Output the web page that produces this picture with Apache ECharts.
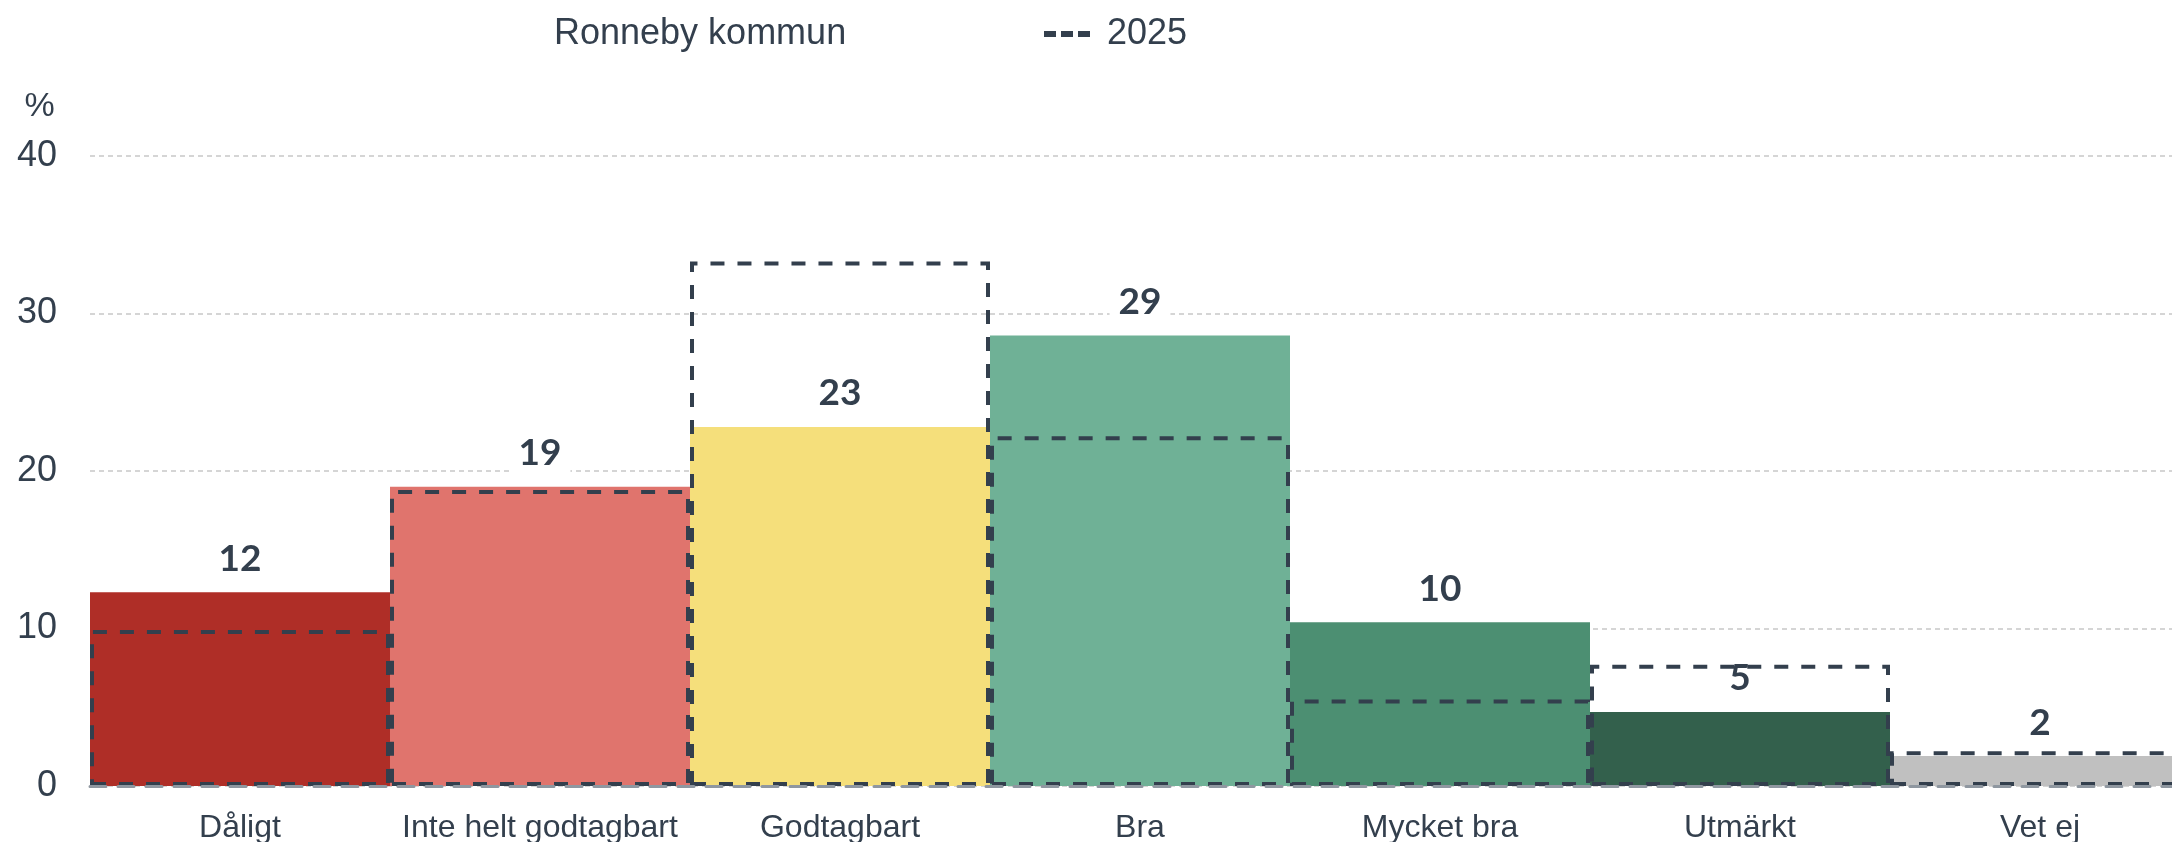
<!DOCTYPE html>
<html>
<head>
<meta charset="utf-8">
<script src="https://cdn.jsdelivr.net/npm/echarts@6/dist/echarts.min.js"></script>
<style>
    html, body { margin: 0; padding: 0; background: #fff; }
    #chart { width: 2172px; height: 842px; }
</style>
</head>
<body>
<div id="chart"></div>
<script>
// kategorier och värden (procent)
var categories = ['Dåligt', 'Inte helt godtagbart', 'Godtagbart', 'Bra', 'Mycket bra', 'Utmärkt', 'Vet ej'];
var values2026 = [12.3, 19.0, 22.8, 28.6, 10.4, 4.7, 1.9];
var values2025 = [9.9, 18.8, 33.3, 22.2, 5.5, 7.7, 2.2];
var yTicks = [0, 10, 20, 30, 40];

var barColors = ['#af2e27', '#e0746d', '#f5df7b', '#6fb196', '#4c8f72', '#33604c', '#c0c0c0'];
var textColor = '#333f4d';

var myChart = echarts.init(document.getElementById('chart'));

var option = {
    animation: false,
    textStyle: { fontFamily: '"Liberation Sans", Arial, sans-serif', color: textColor },
    legend: [
        {
            left: 544,
            top: 11,
            selectedMode: false,
            icon: 'none',
            itemWidth: 0,
            itemHeight: 6,
            textStyle: { fontSize: 36, color: textColor },
            data: [{ name: 'Ronneby kommun' }]
        },
        {
            left: 1039,
            top: 11,
            selectedMode: false,
            itemWidth: 46,
            itemHeight: 6,
            textStyle: { fontSize: 36, color: textColor, padding: [0, 0, 0, 12] },
            data: [{
                name: '2025',
                icon: 'path://M0,0H12V6H0Z M17,0H29V6H17Z M34,0H46V6H34Z',
                itemStyle: { color: textColor, borderWidth: 0 }
            }]
        }
    ],
    // sista stapeln går utanför bilden, därför bredare grid än fönstret
    grid: {
        left: 90,
        width: 2100,
        top: 156,
        bottom: 56,
        outerBoundsMode: 'none',
        containLabel: false
    },
    xAxis: {
        type: 'category',
        data: categories,
        z: 5,
        axisTick: { show: false },
        axisLine: {
            show: true,
            lineStyle: { color: '#8f97a0', width: 3, type: [16, 12] }
        },
        axisLabel: {
            fontSize: 32,
            color: textColor,
            margin: 26,
            interval: 0
        }
    },
    yAxis: {
        type: 'value',
        min: yTicks[0],
        max: yTicks[yTicks.length - 1],
        interval: 10,
        name: '%',
        nameLocation: 'end',
        nameGap: 32,
        nameTextStyle: {
            fontSize: 34,
            color: textColor,
            align: 'center',
            padding: [0, 101, 0, 0]
        },
        axisLine: { show: false },
        axisTick: { show: false },
        axisLabel: { fontSize: 36, color: textColor, margin: 33 },
        splitLine: {
            lineStyle: { color: '#c8c8c8', width: 1.5, type: [5, 4] }
        }
    },
    series: [
        {
            name: 'Ronneby kommun',
            type: 'bar',
            barWidth: '100%',
            barCategoryGap: 0,
            data: values2026.map(function (v, i) {
                return { value: v, itemStyle: { color: barColors[i] } };
            }),
            label: {
                show: true,
                position: 'top',
                distance: 13,
                fontFamily: 'Lato, "Liberation Sans", sans-serif',
                fontWeight: 'bold',
                fontSize: 37,
                color: textColor,
                backgroundColor: '#fff',
                padding: [2, 9],
                formatter: function (p) { return Math.round(p.value); }
            }
        },
        {
            name: '2025',
            type: 'bar',
            barWidth: '100%',
            barGap: '-100%',
            z: 3,
            data: values2025,
            itemStyle: {
                color: 'rgba(0,0,0,0)',
                borderColor: textColor,
                borderWidth: 4,
                borderType: [14, 13]
            }
        }
    ]
};

myChart.setOption(option);
</script>
</body>
</html>
